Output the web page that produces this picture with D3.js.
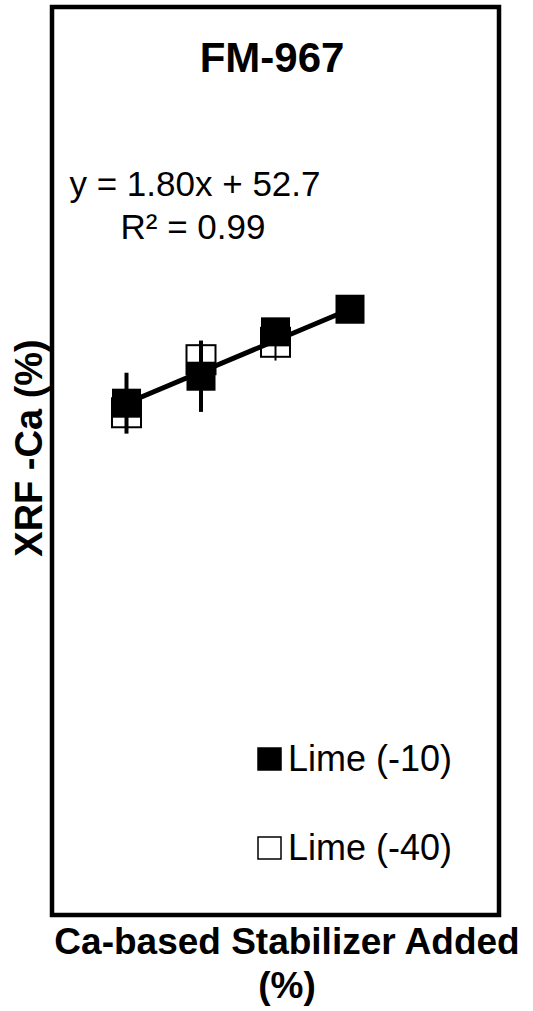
<!DOCTYPE html>
<html>
<head>
<meta charset="utf-8">
<script src="https://cdn.jsdelivr.net/npm/d3@7"></script>
<style>
  body { margin: 0; background: #fff; }
  text { font-family: "Liberation Sans", Arial, sans-serif; fill: #000; }
</style>
</head>
<body>
<svg id="chart" width="533" height="1011"></svg>
<script>
// data
var stabilizer = [2, 4, 6, 8];
var lime10 = [56.3, 59.4, 64.5, 67.1];
var lime10Err = [3.5, 4.1, 0.8, 0.5];
var lime40x = [2, 4, 6];
var lime40 = [55.2, 61.3, 63.3];
var lime40Err = [1.5, 2.0, 2.1];
var fit = { slope: 1.80, intercept: 52.7, r2: 0.99 };
var seriesNames = ["Lime (-10)", "Lime (-40)"];

var svg = d3.select("#chart");

var box = { left: 52, top: 7, right: 499, bottom: 915 };

var x = d3.scaleLinear().domain([0, 12]).range([box.left, box.right]);
var y = d3.scaleLinear().domain([0, 100]).range([893, 23]);

var mark = 29;

// plot border
svg.append("rect")
  .attr("x", box.left).attr("y", box.top)
  .attr("width", box.right - box.left).attr("height", box.bottom - box.top)
  .attr("fill", "none").attr("stroke", "#000").attr("stroke-width", 4.5);

// Lime (-40) first, black series sits on top
var open = lime40x.map(function (d, i) { return { x: d, y: lime40[i], e: lime40Err[i] }; });
svg.selectAll("rect.pt40").data(open).enter().append("rect")
  .attr("class", "pt40")
  .attr("x", function (d) { return x(d.x) - mark / 2; })
  .attr("y", function (d) { return y(d.y) - mark / 2; })
  .attr("width", mark).attr("height", mark)
  .attr("fill", "#fff").attr("stroke", "#000").attr("stroke-width", 2);
svg.selectAll("line.bar40").data(open).enter().append("line")
  .attr("class", "bar40")
  .attr("x1", function (d) { return x(d.x); }).attr("x2", function (d) { return x(d.x); })
  .attr("y1", function (d) { return y(d.y - d.e); }).attr("y2", function (d) { return y(d.y + d.e); })
  .attr("stroke", "#000").attr("stroke-width", 2);

// Lime (-10)
var solid = stabilizer.map(function (d, i) { return { x: d, y: lime10[i], e: lime10Err[i] }; });
svg.selectAll("line.err10").data(solid).enter().append("line")
  .attr("class", "err10")
  .attr("x1", function (d) { return x(d.x); }).attr("x2", function (d) { return x(d.x); })
  .attr("y1", function (d) { return y(d.y - d.e); }).attr("y2", function (d) { return y(d.y + d.e); })
  .attr("stroke", "#000").attr("stroke-width", 4);
svg.selectAll("rect.pt10").data(solid).enter().append("rect")
  .attr("class", "pt10")
  .attr("x", function (d) { return x(d.x) - mark / 2; })
  .attr("y", function (d) { return y(d.y) - mark / 2; })
  .attr("width", mark).attr("height", mark)
  .attr("fill", "#000");

// linear trend line
var ends = [d3.min(stabilizer), d3.max(stabilizer)];
svg.append("path")
  .datum(ends)
  .attr("d", d3.line()
    .x(function (d) { return x(d); })
    .y(function (d) { return y(fit.slope * d + fit.intercept); }))
  .attr("stroke", "#000").attr("stroke-width", 5).attr("fill", "none");

// title
svg.append("text")
  .attr("x", 272).attr("y", 72)
  .attr("text-anchor", "middle")
  .style("font-size", "42px").style("font-weight", "bold")
  .text("FM-967");

// equation label
svg.append("text")
  .attr("x", 195).attr("y", 196)
  .attr("text-anchor", "middle")
  .style("font-size", "35px")
  .text("y = " + fit.slope.toFixed(2) + "x + " + fit.intercept.toFixed(1));
svg.append("text")
  .attr("x", 193).attr("y", 239)
  .attr("text-anchor", "middle")
  .style("font-size", "35px")
  .text("R² = " + fit.r2.toFixed(2));

// legend
var legend = svg.selectAll("g.legend").data(seriesNames).enter().append("g")
  .attr("class", "legend")
  .attr("transform", function (d, i) { return "translate(258," + (748 + i * 89) + ")"; });
legend.append("rect")
  .attr("x", 0).attr("y", 0).attr("width", 23).attr("height", 22)
  .attr("fill", function (d, i) { return i === 0 ? "#000" : "#fff"; })
  .attr("stroke", "#000").attr("stroke-width", 1.5);
legend.append("text")
  .attr("x", 30).attr("y", 23)
  .style("font-size", "36px")
  .text(function (d) { return d; });

// axis titles
svg.append("text")
  .attr("x", 287).attr("y", 954)
  .attr("text-anchor", "middle")
  .style("font-size", "37px").style("font-weight", "bold")
  .text("Ca-based Stabilizer Added");
svg.append("text")
  .attr("x", 287).attr("y", 998)
  .attr("text-anchor", "middle")
  .style("font-size", "37px").style("font-weight", "bold")
  .text("(%)");

svg.append("text")
  .attr("transform", "translate(42,448) rotate(-90)")
  .attr("text-anchor", "middle")
  .style("font-size", "38px").style("font-weight", "bold")
  .text("XRF -Ca (%)");
</script>
</body>
</html>
